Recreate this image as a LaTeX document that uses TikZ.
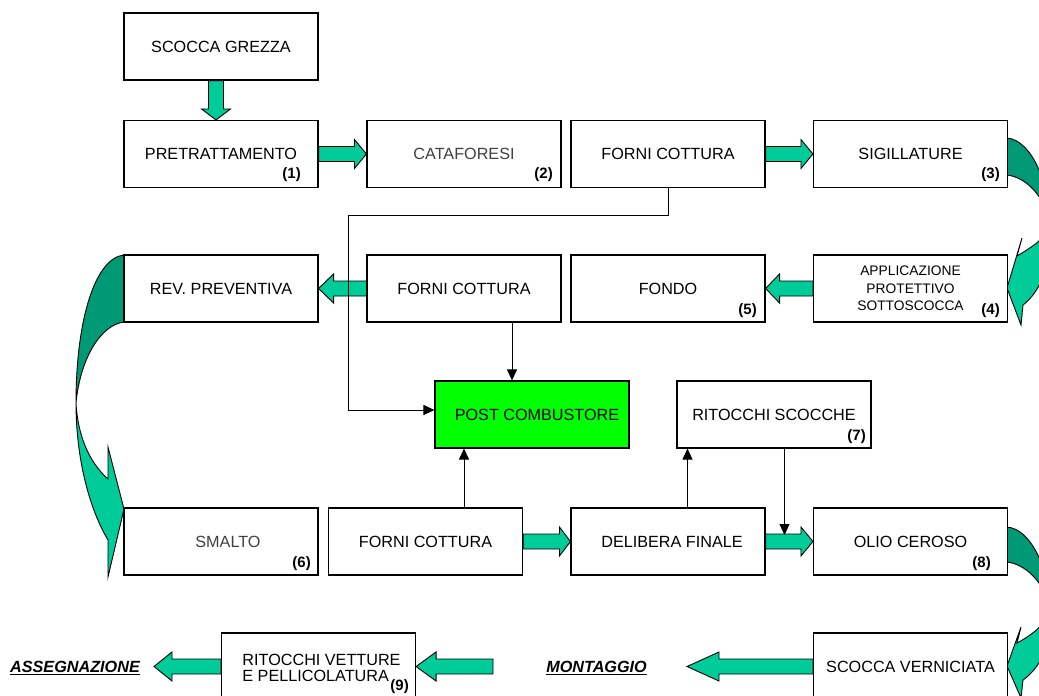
\documentclass[tikz,border=0pt]{standalone}
\usepackage{fontspec}
\setmainfont{Liberation Sans}
\usetikzlibrary{arrows.meta,calc}
\definecolor{lgreen}{RGB}{0,204,153}
\definecolor{dgreen}{RGB}{0,153,118}
\definecolor{pgreen}{RGB}{0,255,0}
\definecolor{gtext}{RGB}{64,64,64}
\newcommand\boxfont{\fontsize{16.2}{18}\selectfont}
\newcommand\smallboxfont{\fontsize{13.8}{17.5}\selectfont}
\newcommand\numfont{\fontsize{15}{16}\selectfont\bfseries}
% right-pointing block arrow: start, tip, head length
\newcommand\arrowRight[3]{\draw[garrow] let \p1=(#1), \p2=(#2) in
  (\x1,\y2+7.5pt) -- (\x2-#3,\y2+7.5pt) -- (\x2-#3,\y2+14.5pt) -- (\x2,\y2)
  -- (\x2-#3,\y2-14.5pt) -- (\x2-#3,\y2-7.5pt) -- (\x1,\y2-7.5pt) -- cycle;}
% left-pointing block arrow: start, tip, head length
\newcommand\arrowLeft[3]{\draw[garrow] let \p1=(#1), \p2=(#2) in
  (\x1,\y2+7.5pt) -- (\x2+#3,\y2+7.5pt) -- (\x2+#3,\y2+14.5pt) -- (\x2,\y2)
  -- (\x2+#3,\y2-14.5pt) -- (\x2+#3,\y2-7.5pt) -- (\x1,\y2-7.5pt) -- cycle;}
\begin{document}
\begin{tikzpicture}[x=1pt,y=-1pt,
  box/.style={draw, line width=1.1pt, fill=white, minimum width=194pt,
    minimum height=67pt, inner sep=0pt, font=\boxfont, align=center, text=black},
  num/.style={font=\numfont, anchor=east, inner sep=0pt},
  garrow/.style={fill=lgreen, draw=black, line width=0.9pt, line join=miter},
  gdark/.style={fill=dgreen, draw=black, line width=0.9pt},
  conn/.style={line width=1pt, -{Triangle[length=11pt,width=10pt]}},
  outtext/.style={font=\boxfont\bfseries\itshape, inner sep=0pt}]
\useasboundingbox (0,0) rectangle (1039,696);
\fill[white] (0,0) rectangle (1039,696);
\clip (0,0) rectangle (1039,696);

% curled arrows
\draw[gdark] (1007,138) .. controls (1032,140) and (1050,185) .. (1050,225)
  .. controls (1045,195) and (1025,177) .. (1007,175) -- cycle;
\draw[garrow] (1050,225) .. controls (1052,265) and (1040,292) .. (1023,305)
  -- (1021,325) -- (1007,288) -- (1022,238) -- (1017,256)
  .. controls (1030,248) and (1045,240) .. (1050,225) -- cycle;

\draw[gdark] (1007,527) .. controls (1032,529) and (1050,572) .. (1050,610)
  .. controls (1045,582) and (1025,564) .. (1007,562) -- cycle;
\draw[garrow] (1050,610) .. controls (1052,645) and (1040,668) .. (1023,680)
  -- (1021,698) -- (1007,666) -- (1021,627) -- (1017,643)
  .. controls (1030,636) and (1045,626) .. (1050,610) -- cycle;

\draw[gdark] (124,255) .. controls (95,258) and (76,320) .. (76,403)
  .. controls (80,360) and (100,325) .. (124,322) -- cycle;
\draw[garrow] (76,403) .. controls (76,460) and (90,510) .. (108,540)
  -- (108,577) -- (124,509) -- (108,447) -- (108,479)
  .. controls (92,465) and (78,440) .. (76,403) -- cycle;

% boxes
\node[box] (sg) at (221,46.5) {SCOCCA GREZZA};
\node[box] (pre) at (221,154) {PRETRATTAMENTO};
\node[box, text=gtext] (cat) at (464,154) {CATAFORESI};
\node[box] (fc1) at (668,154) {FORNI COTTURA};
\node[box] (sig) at (910.5,154) {SIGILLATURE};
\node[box] (rev) at (221,288.5) {REV. PREVENTIVA};
\node[box] (fc2) at (464,288.5) {FORNI COTTURA};
\node[box] (fon) at (668,288.5) {FONDO};
\node[box, font=\smallboxfont] (app) at (910.5,288.5) {APPLICAZIONE\\PROTETTIVO\\SOTTOSCOCCA};
\node[box, fill=pgreen] (pc) at (532,414.5) {\hspace*{10pt}POST COMBUSTORE};
\node[box] (rs) at (774,414.5) {RITOCCHI SCOCCHE};
\node[box, text=gtext] (sma) at (221,541.5) {\hspace*{14pt}SMALTO};
\node[box] (fc3) at (425.5,541.5) {FORNI COTTURA};
\node[box] (del) at (668,541.5) {\hspace*{8pt}DELIBERA FINALE};
\node[box] (olio) at (910.5,541.5) {OLIO CEROSO};
\node[box, font=\fontsize{16.2}{16.5}\selectfont] (rv) at (318.5,666.5) {\hspace*{6pt}\raisebox{-8pt}[16pt][16pt]{\begin{tabular}{@{}l@{}}RITOCCHI VETTURE\\[-1pt]E PELLICOLATURA\end{tabular}}};
\node[box] (sv) at (910.5,666.5) {SCOCCA VERNICIATA};

% numbers
\node[num] (n1) at (301,175) {(1)};
\node[num] (n2) at (553,175) {(2)};
\node[num] (n3) at (1000,175) {(3)};
\node[num] (n4) at (1000,311) {(4)};
\node[num] (n5) at (757,311) {(5)};
\node[num] (n6) at (311,564) {(6)};
\node[num] (n7) at (866,437) {(7)};
\node[num] (n8) at (991,564) {(8)};
\node[num] (n9) at (409,687) {(9)};

% outside texts
\node[outtext] (asg) at (75,668) {\underline{ASSEGNAZIONE}};
\node[outtext] (mon) at (596.5,668) {\underline{MONTAGGIO}};

% helper coordinates
\coordinate (mtip) at (687,666.5);
\coordinate (rvin) at (493,666.5);
\coordinate (atip) at (154,666.5);

% block arrows
\draw[garrow] let \p1=($(sg.south)+(-5,0)$), \p2=($(pre.north)+(-5,0)$) in
  (\x1-7.5pt,\y1) -- (\x1-7.5pt,\y2+11pt) -- (\x1-14.5pt,\y2+11pt) -- (\x2,\y2)
  -- (\x1+14.5pt,\y2+11pt) -- (\x1+7.5pt,\y2+11pt) -- (\x1+7.5pt,\y1) -- cycle;
\arrowRight{pre.east}{cat.west}{12pt}
\arrowRight{fc1.east}{sig.west}{12pt}
\arrowLeft{app.west}{fon.east}{14pt}
\arrowLeft{fc2.west}{rev.east}{15pt}
\arrowRight{fc3.east}{del.west}{11pt}
\arrowRight{del.east}{olio.west}{12pt}
\arrowLeft{sv.west}{mtip}{32pt}
\arrowLeft{rvin}{rv.east}{20pt}
\arrowLeft{rv.west}{atip}{18pt}

% thin connectors
\coordinate (k1) at (668,215);
\coordinate (k2) at (348,215);
\coordinate (k3) at (348,410);
\draw[conn] (fc1.south) -- (k1) -- (k2) -- (k3) -- (k3 -| pc.west);
\coordinate (x1) at (512,0);
\draw[conn] (fc2.south -| x1) -- (pc.north -| x1);
\coordinate (x2) at (464,0);
\draw[conn] (fc3.north -| x2) -- (pc.south -| x2);
\coordinate (x3) at (687.5,0);
\draw[conn] (del.north -| x3) -- (rs.south -| x3);
\coordinate (rtip) at (784.5,535);
\draw[conn] (rs.south -| rtip) -- (rtip);
\end{tikzpicture}
\end{document}
